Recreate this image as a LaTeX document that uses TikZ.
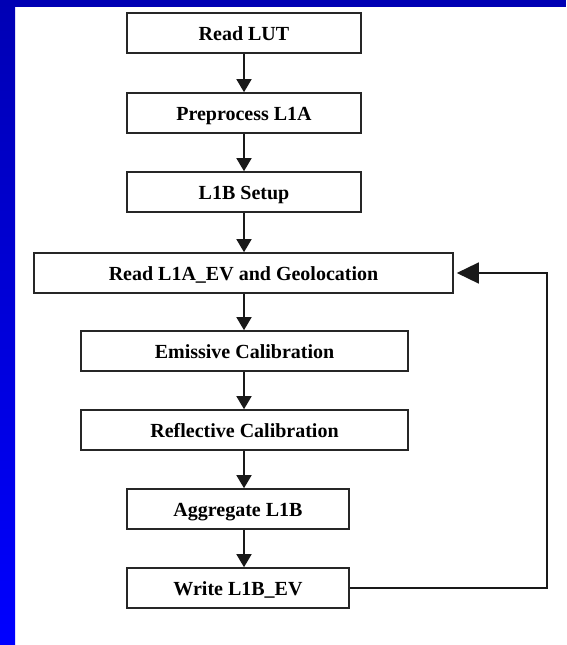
\documentclass[tikz,border=0pt]{standalone}
\usepackage{fontspec}
\setmainfont{Liberation Serif}
\usetikzlibrary{arrows.meta}
\definecolor{rimdark}{RGB}{0,0,180}
\definecolor{rimlight}{RGB}{0,0,255}
\begin{document}
\begin{tikzpicture}[x=1pt, y=-1pt,
        stepbox/.style={draw=black!85, line width=1.6pt, fill=white, minimum height=40pt,
            inner sep=0pt, text height=14pt, text depth=0pt, font=\fontsize{20}{24}\selectfont\bfseries},
        flow/.style={-{Triangle[width=15pt, length=13pt]}, line width=1.5pt, black!90}]
                \useasboundingbox (0, 0) rectangle (566, 645);

                \fill[white] (0, 0) rectangle (566, 645);

                \shade[top color=rimdark, bottom color=rimlight] (0, 0) rectangle (15, 645);

                \fill[rimdark] (0, 0) rectangle (566, 7);

                \coordinate (axis) at (244, 0);

                \coordinate (loop) at (547, 0);

                \node[stepbox, minimum width=234pt] (lut) at (244, 33) {Read LUT};

                \node[stepbox, minimum width=234pt] (pre) at (244, 113) {Preprocess L1A};

                \node[stepbox, minimum width=234pt] (setup) at (244, 192) {L1B Setup};

                \node[stepbox, minimum width=419pt] (readev) at (243.5, 273) {Read L1A\_EV and Geolocation};

                \node[stepbox, minimum width=327pt] (emis) at (244.5, 351) {Emissive Calibration};

                \node[stepbox, minimum width=327pt] (refl) at (244.5, 430) {Reflective Calibration};

                \node[stepbox, minimum width=222pt] (agg) at (238, 509) {Aggregate L1B};

                \node[stepbox, minimum width=222pt] (write) at (238, 588) {Write L1B\_EV};

                \draw[flow] (lut.south -| axis) -- (pre.north -| axis);

                \draw[flow] (pre.south -| axis) -- (setup.north -| axis);

                \draw[flow] (setup.south -| axis) -- (readev.north -| axis);

                \draw[flow] (readev.south -| axis) -- (emis.north -| axis);

                \draw[flow] (emis.south -| axis) -- (refl.north -| axis);

                \draw[flow] (refl.south -| axis) -- (agg.north -| axis);

                \draw[flow] (agg.south -| axis) -- (write.north -| axis);

                \draw[flow, -{Triangle[width=21pt, length=22pt]}] (write.east) -| (loop |- readev.east) -- ([xshift=3pt]readev.east);
            \end{tikzpicture}
\end{document}
